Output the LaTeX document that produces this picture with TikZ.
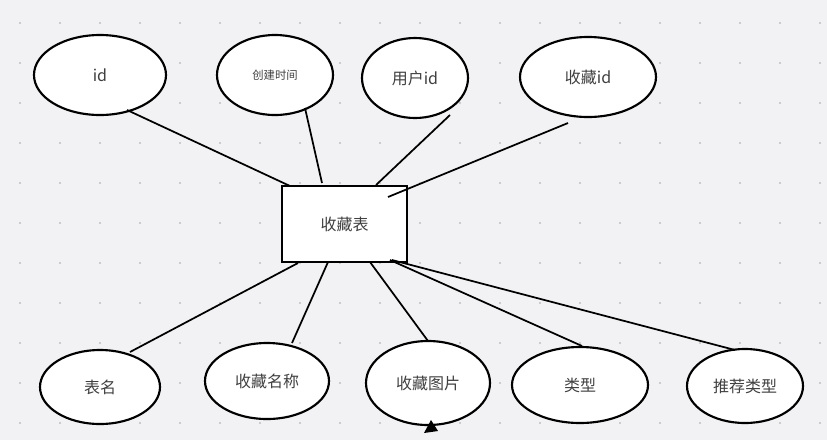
\documentclass[tikz,border=0pt]{standalone}
\usetikzlibrary{shapes.geometric}
\usepackage{fontspec}
\setmainfont{Noto Sans CJK SC}
\begin{document}
\begin{tikzpicture}[x=0.75pt,y=-0.75pt,
  attr/.style={draw=black,line width=1.6pt,fill=white,ellipse,inner sep=0pt},
  ent/.style={draw=black,line width=1.6pt,fill=white,rectangle,minimum width=93.75pt,minimum height=57pt},
  lab/.style={text=black!75,font=\fontsize{12}{14}\selectfont},
  conn/.style={line width=1.3pt}]
\definecolor{bg}{HTML}{F2F2F4}
\fill[bg] (0,0) rectangle (827,440);
\useasboundingbox (0,0) rectangle (827,440);
\foreach \x in {20,60,...,820} \foreach \y in {23,63,...,440} \fill[black!25] (\x,\y) circle (0.9pt);
\tikzset{el/.style 2 args={attr,minimum width=#1*1.5pt,minimum height=#2*1.5pt}}
\node[el={66}{40}] (id) at (100,75) {};
\node[lab] at (id) {id};
\node[el={58}{40}] (ct) at (275,75) {};
\node[lab,font=\fontsize{8.5}{10}\selectfont] at (ct) {创建时间};
\node[el={53}{40}] (uid) at (415,78) {};
\node[lab] at (uid) {用户id};
\node[el={68}{40}] (sid) at (588,77) {};
\node[lab] at (sid) {收藏id};
\node[ent] (t) at (344.5,224) {};
\node[lab] at (t) {收藏表};
\node[el={60}{37}] (bm) at (100,387) {};
\node[lab] at (bm) {表名};
\node[el={62}{38}] (mc) at (267,381) {};
\node[lab] at (mc) {收藏名称};
\node[el={62}{42}] (tp) at (428,383) {};
\node[lab] at (tp) {收藏图片};
\node[el={68}{38}] (lx) at (580,385) {};
\node[lab] at (lx) {类型};
\node[el={58}{37}] (tj) at (745,386) {};
\node[lab] at (tj) {推荐类型};
\coordinate (a1) at (127,110); \coordinate (b1) at (290,186);
\coordinate (a2) at (305,108); \coordinate (b2) at (322,183);
\coordinate (a3) at (450,115); \coordinate (b3) at (376,185);
\coordinate (a4) at (568,123); \coordinate (b4) at (388,197);
\coordinate (c1) at (298,263); \coordinate (d1) at (130,352);
\coordinate (c2) at (328,262); \coordinate (d2) at (292,343);
\coordinate (c3) at (370,262); \coordinate (d3) at (428,341);
\coordinate (c4) at (390,260); \coordinate (d4) at (582,346);
\coordinate (c5) at (392,260); \coordinate (d5) at (735,350);
\foreach \p/\q in {a1/b1,a2/b2,a3/b3,a4/b4,c1/d1,c2/d2,c3/d3,c4/d4,c5/d5}
  \draw[conn] (\p) -- (\q);
\fill[black] (424,433) -- (431,420) -- (438,431) -- cycle;
\end{tikzpicture}
\end{document}
